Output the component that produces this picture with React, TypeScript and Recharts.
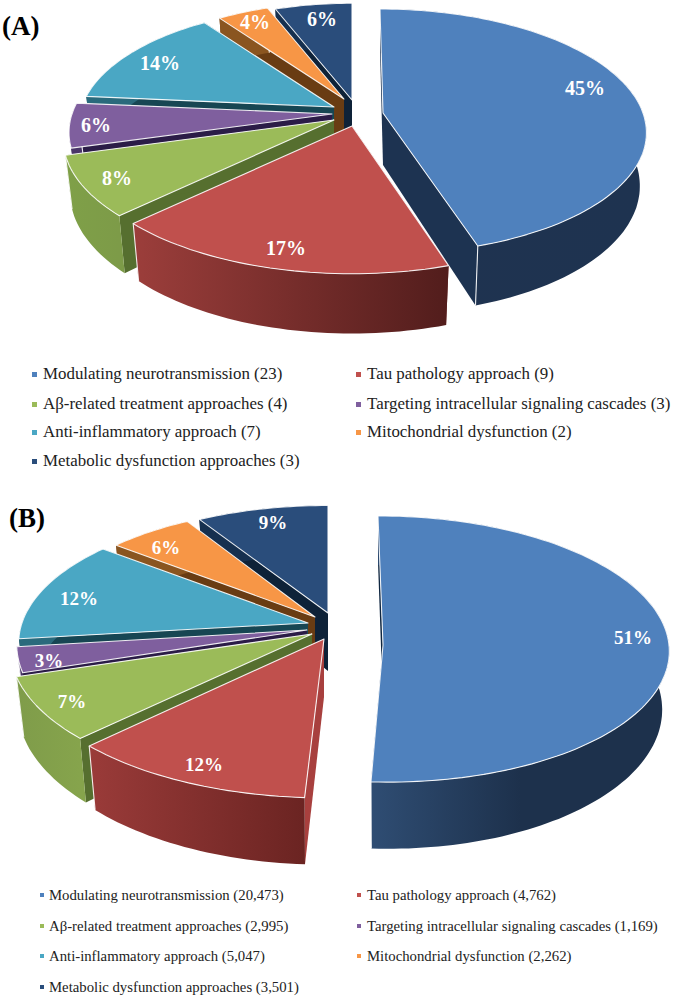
import React from 'react';
import { PieChart, Pie, Legend } from 'recharts';

// ---- data ----
const categories = [
  'Modulating neurotransmission',
  'Tau pathology approach',
  'A\u03b2-related treatment approaches',
  'Targeting intracellular signaling cascades',
  'Anti-inflammatory approach',
  'Mitochondrial dysfunction',
  'Metabolic dysfunction approaches',
];
const valuesA = [23, 9, 4, 3, 7, 2, 3];
const valuesB = [20473, 4762, 2995, 1169, 5047, 2262, 3501];
const percentLabelsA = ['45%', '17%', '8%', '6%', '14%', '4%', '6%'];
const percentLabelsB = ['51%', '12%', '7%', '3%', '12%', '6%', '9%'];
const topColors = ['#4f81bd', '#c0504d', '#9bbb59', '#7f5f9e', '#4aa7c4', '#f79646', '#2a4d7b'];
// slices are painted back to front, so the pie walks counter-clockwise from 12 o'clock
const paintOrder = [6, 5, 4, 3, 2, 1, 0];

// ---- 3D look: explode offsets, per-slice perspective, wall colours ----
type Look = {
  id: string; cx: number; cy: number; R: number; squash: number; depth: number;
  offset: number[][]; sx: number[]; sy: number[]; k: number[]; skew: number[];
  arcWall: string[][]; radialWall: string[]; labelAt: number[][]; labelSize: number;
  labels: string[]; values: number[];
  legendFont: number; legendRows: number[]; legendMarker: number[]; legendText: number[]; markerSize: number;
};

const lookA: Look = {
  id: 'a', cx: 340, cy: 113, R: 260, squash: 0.46, depth: 52,
  offset: [[43, 0], [12, 13], [-6, 7], [-8, 1], [-6, -6], [4, -14], [12, -13]],
  sx: [1, 1.05, 1.03, 1, 0.97, 0.93, 0.93],
  sy: [1, 1.05, 1.03, 1, 0.97, 0.93, 0.93],
  k: [0.15, 0.15, 0.15, 0.15, 0.15, 0.15, 0.15],
  skew: [3, 0, 0, 0, 0, 0, 0],
  arcWall: [['#1f3350', '#1e3350'], ['#9c3e3b', '#521d1c'], ['#7fa048', '#7d9b48'], ['#4a3568', '#4a3568'], ['#2a6a7c', '#2a6a7c'], ['#8a5520', '#8a5520'], ['#16304f', '#16304f']],
  radialWall: ['#1d3351', '#7a2f2d', '#566f2f', '#2b1c47', '#174653', '#693c13', '#0e2238'],
  labelAt: [[245, -25], [-54, 135], [-223, 65], [-244, 12], [-180, -50], [-85, -91], [-18, -94]],
  labelSize: 20, labels: percentLabelsA, values: valuesA,
  legendFont: 16.9, legendRows: [374, 404, 432, 461], legendMarker: [32, 356], legendText: [43, 367], markerSize: 5,
};

const lookB: Look = {
  id: 'b', cx: 330, cy: 140, R: 286, squash: 0.465, depth: 58,
  offset: [[53, 15], [-6, 9], [-18, 4], [-23, 0], [-22, -7], [-15, -13], [-2, -17]],
  sx: [1, 1.063, 1.05, 1.01, 1, 0.97, 0.975],
  sy: [1, 1.075, 1.05, 1.05, 0.98, 0.95, 0.93],
  k: [0.03, 0.1, 0.1, 0.1, 0.15, 0.15, 0.15],
  skew: [5, 0, 0, 0, 0, 0, 0],
  arcWall: [['#2f4d73', '#1d314c', '#1d314c'], ['#9a3b39', '#6b2422'], ['#7f9c4a', '#86a44c'], ['#4a3568', '#4a3568'], ['#2a6a7c', '#2a6a7c'], ['#8a5520', '#8a5520'], ['#16304f', '#16304f']],
  radialWall: ['#0f2640', '#a8403e', '#566f2f', '#2b1c47', '#174653', '#693c13', '#0e2238'],
  labelAt: [[303, 7], [-126, 134], [-258, 71], [-281, 30], [-251, -32], [-164, -83], [-57, -108]],
  labelSize: 19, labels: percentLabelsB, values: valuesB,
  legendFont: 14.75, legendRows: [405, 436, 466, 497], legendMarker: [40, 357], legendText: [49, 367], markerSize: 4,
};

const SERIF = '"Liberation Serif", "Times New Roman", serif';
const ARC_STEP = 1.5;

function projector(look: Look, i: number, cx: number, cy: number, R: number) {
  const ax = cx + look.offset[i][0];
  const ay = cy + look.offset[i][1];
  const top = (theta: number) => {
    const rad = (theta * Math.PI) / 180;
    const u = Math.sin(rad);
    const v = -Math.cos(rad);
    const w = 1 - look.k[i] * v;
    return [
      ax + (R * look.sx[i] * u) / w + look.skew[i] * v,
      ay + (R * look.squash * look.sy[i] * v) / w,
      v,
    ];
  };
  const drop = (p: number[]) => [ax + (p[0] - ax) * 0.975, p[1] + look.depth * (1 + 0.15 * p[2])];
  return { ax, ay, top, drop };
}

const toPath = (pts: number[][]) =>
  'M' + pts.map((p) => `${p[0].toFixed(1)},${p[1].toFixed(1)}`).join('L') + 'Z';

function sliceShape(look: Look) {
  return (props: any) => {
    const i = categories.indexOf(props.name ?? props.payload?.name);
    if (i < 0) return <g />;
    const { top, drop, ax, ay } = projector(look, i, props.cx, props.cy, props.outerRadius);
    // clockwise-from-12-o'clock angles of the sector the library computed
    const t0 = 90 - Math.max(props.startAngle, props.endAngle);
    const t1 = 90 - Math.min(props.startAngle, props.endAngle);
    const lo = t0 < 0 ? t0 + 360 : t0;
    const hi = lo + (t1 - t0);
    const arc: number[][] = [];
    const n = Math.max(2, Math.ceil((hi - lo) / ARC_STEP));
    for (let s = 0; s <= n; s++) arc.push(top(lo + ((hi - lo) * s) / n));
    const apexBottom = [ax, ay + look.depth];
    const bottomArc = arc.map(drop);
    const xs = arc.map((p) => p[0]);
    const gid = `wall-${look.id}-${i}`;
    const stops = look.arcWall[i];
    const first = arc[0];
    const last = arc[arc.length - 1];
    return (
      <g>
        <defs>
          <linearGradient id={gid} gradientUnits="userSpaceOnUse" x1={Math.min(...xs)} x2={Math.max(...xs)} y1={0} y2={0}>
            {stops.map((c, si) => (
              <stop key={si} offset={si / (stops.length - 1)} stopColor={c} />
            ))}
          </linearGradient>
        </defs>
        <path d={toPath([[ax, ay], first, bottomArc[0], apexBottom])} fill={look.radialWall[i]} />
        <path d={toPath([[ax, ay], last, bottomArc[bottomArc.length - 1], apexBottom])} fill={look.radialWall[i]} />
        <path d={toPath([...arc, ...bottomArc.slice().reverse()])} fill={`url(#${gid})`} />
        <path d={toPath([last, bottomArc[bottomArc.length - 1]])} fill="none" stroke="#ffffff" strokeWidth={1.1} strokeOpacity={0.9} />
        <path d={toPath([[ax, ay], ...arc])} fill={topColors[i]} stroke="#ffffff" strokeWidth={1.1} strokeLinejoin="round" strokeOpacity={0.9} />
      </g>
    );
  };
}

function percentLabel(look: Look) {
  return (props: any) => {
    const i = categories.indexOf(props.name ?? props.payload?.name);
    if (i < 0) return null;
    return (
      <text
        x={props.cx + look.labelAt[i][0]}
        y={props.cy + look.labelAt[i][1]}
        fill="#ffffff"
        textAnchor="middle"
        dominantBaseline="central"
        fontFamily={SERIF}
        fontWeight="bold"
        fontSize={look.labelSize}
      >
        {look.labels[i]}
      </text>
    );
  };
}

function legendContent(look: Look) {
  return () => (
    <div style={{ position: 'relative', width: 675, height: 1 }}>
      {categories.map((name, i) => {
        const row = Math.floor(i / 2);
        const col = i % 2;
        const y = look.legendRows[row];
        const size = look.markerSize;
        return (
          <React.Fragment key={name}>
            <div style={{ position: 'absolute', left: look.legendMarker[col], top: y - size / 2, width: size, height: size, background: topColors[i] }} />
            <div
              style={{
                position: 'absolute', left: look.legendText[col], top: y - 11, height: 22, lineHeight: '22px',
                fontFamily: SERIF, fontSize: look.legendFont, color: '#222', whiteSpace: 'nowrap',
              }}
            >
              {`${name} (${look.values[i].toLocaleString('en-US')})`}
            </div>
          </React.Fragment>
        );
      })}
    </div>
  );
}

function Panel({ look, width, height }: { look: Look; width: number; height: number }) {
  const data = paintOrder.map((i) => ({ name: categories[i], value: look.values[i], fill: topColors[i] }));
  return (
    <PieChart width={width} height={height} margin={{ top: 0, right: 0, bottom: 0, left: 0 }}>
      <Pie
        data={data}
        dataKey="value"
        nameKey="name"
        cx={look.cx}
        cy={look.cy}
        innerRadius={0}
        outerRadius={look.R}
        startAngle={90}
        endAngle={450}
        stroke="none"
        isAnimationActive={false}
        shape={sliceShape(look)}
        label={percentLabel(look)}
        labelLine={false}
      />
      <Legend verticalAlign="bottom" wrapperStyle={{ position: 'absolute', left: 0, top: 0, width: 675, height: 1 }} content={legendContent(look)} />
    </PieChart>
  );
}

const titleStyle: React.CSSProperties = {
  position: 'absolute', fontFamily: SERIF, fontWeight: 'bold', fontSize: 27, lineHeight: '30px', color: '#000',
};

export default function App() {
  return (
    <div style={{ position: 'absolute', left: 0, top: 0, width: 675, height: 997, overflow: 'hidden', background: '#fff' }}>
      <div style={{ position: 'absolute', left: 0, top: 0 }}>
        <Panel look={lookA} width={675} height={490} />
      </div>
      <div style={{ position: 'absolute', left: 0, top: 490 }}>
        <Panel look={lookB} width={675} height={507} />
      </div>
      <div style={{ ...titleStyle, left: 2, top: 11 }}>(A)</div>
      <div style={{ ...titleStyle, left: 9, top: 503 }}>(B)</div>
    </div>
  );
}
